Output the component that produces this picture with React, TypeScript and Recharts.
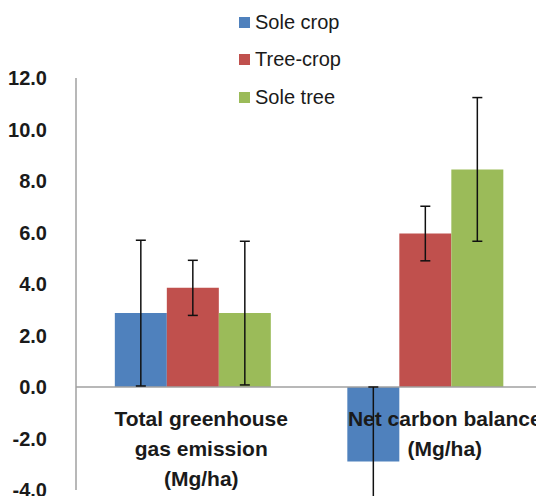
import { BarChart, Bar, XAxis, YAxis, ErrorBar, ReferenceLine, Legend } from "recharts";

const categories: string[] = ["Total greenhouse\ngas emission\n(Mg/ha)", "Net carbon balance\n(Mg/ha)"];

const soleCrop: number[] = [2.87, -2.89];
const soleCropErr: number[] = [2.83, 2.89];
const treeCrop: number[] = [3.85, 5.96];
const treeCropErr: number[] = [1.07, 1.06];
const soleTree: number[] = [2.87, 8.45];
const soleTreeErr: number[] = [2.79, 2.79];

const yTicks: number[] = [-4, -2, 0, 2, 4, 6, 8, 10, 12];

const series = [
  { key: "soleCrop", name: "Sole crop", color: "#4F81BD" },
  { key: "treeCrop", name: "Tree-crop", color: "#C0504D" },
  { key: "soleTree", name: "Sole tree", color: "#9BBB59" },
];

const data = categories.map((c, i) => ({
  category: c,
  soleCrop: soleCrop[i],
  soleCropErr: soleCropErr[i],
  treeCrop: treeCrop[i],
  treeCropErr: treeCropErr[i],
  soleTree: soleTree[i],
  soleTreeErr: soleTreeErr[i],
}));

const FONT = "'Liberation Sans', Arial, sans-serif";

// category labels sit just under the zero line, a bit right of the group centre
const CategoryTick = (props: any) => {
  const { x, y, payload, index } = props;
  const lines: string[] = String(payload.value).split("\n");
  const shift = index === 0 ? 9 : 20;
  return (
    <text
      x={x + shift}
      y={y - 72}
      textAnchor="middle"
      fontSize={21}
      fontWeight="bold"
      fill="#1a1a1a"
      fontFamily={FONT}
    >
      {lines.map((l, i) => (
        <tspan key={i} x={x + shift} dy={i === 0 ? 0 : 30}>
          {l}
        </tspan>
      ))}
    </text>
  );
};

const MyLegend = () => (
  <div style={{ fontFamily: FONT, fontSize: 20, color: "#1a1a1a" }}>
    {series.map((s) => (
      <div key={s.key} style={{ display: "flex", alignItems: "center", height: 24, marginBottom: 13.5 }}>
        <span style={{ width: 11, height: 11, background: s.color, display: "inline-block", marginRight: 5 }} />
        <span>{s.name}</span>
      </div>
    ))}
  </div>
);

export default function App() {
  return (
    <BarChart
      width={536}
      height={488}
      data={data}
      margin={{ top: 70, right: 3, left: 0, bottom: 0 }}
      barCategoryGap="16.7%"
      barGap={0}
      style={{ fontFamily: FONT }}
    >
      <XAxis
        dataKey="category"
        axisLine={false}
        tickLine={false}
        height={6}
        interval={0}
        tick={<CategoryTick />}
      />
      <YAxis
        domain={[-4, 12]}
        ticks={yTicks}
        interval={0}
        allowDataOverflow
        width={68}
        tickLine={false}
        tickSize={0}
        tickMargin={29}
        axisLine={{ stroke: "#A0A0A0", strokeWidth: 1.5 }}
        tickFormatter={(v: number) => v.toFixed(1)}
        tick={{ fill: "#1a1a1a", fontSize: 20, fontWeight: "bold" }}
      />
      <ReferenceLine y={0} stroke="#A0A0A0" strokeWidth={1.5} />
      <Legend
        content={<MyLegend />}
        verticalAlign="top"
        wrapperStyle={{ position: "absolute", left: 231, top: 2, width: 200, height: 0, overflow: "visible" }}
      />
      {series.map((s) => (
        <Bar key={s.key} dataKey={s.key} name={s.name} fill={s.color} isAnimationActive={false}>
          <ErrorBar dataKey={`${s.key}Err`} width={5} stroke="#111" strokeWidth={1.5} />
        </Bar>
      ))}
    </BarChart>
  );
}
